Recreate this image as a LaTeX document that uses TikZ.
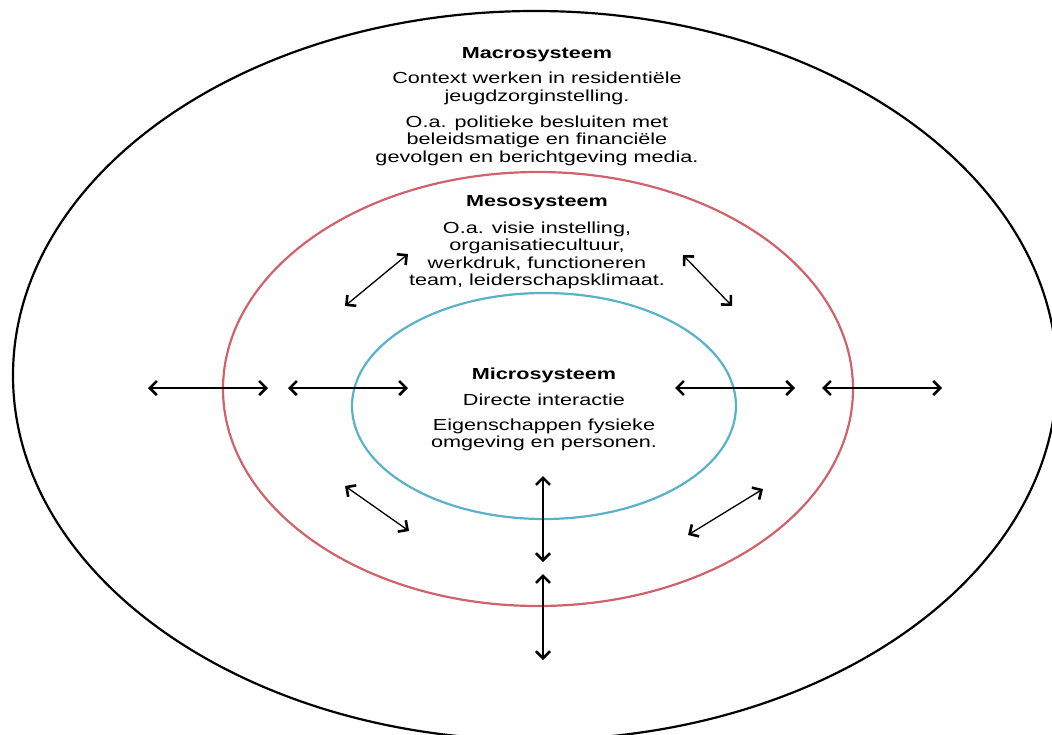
\documentclass[tikz,border=0pt]{standalone}
\usepackage{fontspec}
\setmainfont{Liberation Sans}[FakeStretch=1.35]
\usetikzlibrary{arrows.meta}
\definecolor{mesored}{RGB}{208,98,108}
\definecolor{microblue}{RGB}{88,178,200}
\tikzset{
  ring/.style={line width=2.2pt},
  txt/.style={align=center, inner sep=0pt, font=\fontsize{16}{17.5}\selectfont},
  ttl/.style={align=center, inner sep=0pt, font=\fontsize{16}{17.5}\selectfont\bfseries},
  link/.style={line width=1.3pt, {Straight Barb[length=7pt,width=14pt,line width=2.6pt]}-{Straight Barb[length=7pt,width=14pt,line width=2.6pt]}}
}
\begin{document}
\begin{tikzpicture}[x=1pt,y=-1pt]
\useasboundingbox (0,0) rectangle (1052,734);
\fill[white] (0,0) rectangle (1052,734);
% rings
\draw[ring,black] (535,375.5) ellipse [x radius=522pt, y radius=364.5pt];
\draw[ring,mesored] (538,389) ellipse [x radius=315pt, y radius=217pt];
\draw[ring,microblue] (544,406) ellipse [x radius=192pt, y radius=113pt];
% texts
\node[ttl] (macro) at (537,54.5) {Macrosysteem};
\node[txt] (macro1) at (537,88.5) {Context werken in residenti\"ele\\jeugdzorginstelling.};
\node[txt] (macro2) at (537,140.5) {O.a. politieke besluiten met\\beleidsmatige en financi\"ele\\gevolgen en berichtgeving media.};
\node[ttl] (meso) at (537,203) {Mesosysteem};
\node[txt] (meso1) at (537,255.5) {O.a. visie instelling,\\organisatiecultuur,\\werkdruk, functioneren\\team, leiderschapsklimaat.};
\node[ttl] (micro) at (544,375) {Microsysteem};
\node[txt] (micro1) at (544,400) {Directe interactie};
\node[txt] (micro2) at (544,435) {Eigenschappen fysieke\\omgeving en personen.};
% arrow end points
\coordinate (a1l) at (148,388); \coordinate (a1r) at (268,388);
\coordinate (a2l) at (288,388); \coordinate (a2r) at (408,388);
\coordinate (a3l) at (675,388); \coordinate (a3r) at (795,388);
\coordinate (a4l) at (822,388); \coordinate (a4r) at (942,388);
\coordinate (ula) at (345,306); \coordinate (ulb) at (408,254);
\coordinate (ura) at (683,255); \coordinate (urb) at (732,306);
\coordinate (lla) at (345,486); \coordinate (llb) at (409,531);
\coordinate (lra) at (688,535); \coordinate (lrb) at (763,489);
\coordinate (v1a) at (543,476); \coordinate (v1b) at (543,562);
\coordinate (v2a) at (543,574); \coordinate (v2b) at (543,660);
% arrows
\draw[link] (a1l) -- (a1r);
\draw[link] (a2l) -- (a2r);
\draw[link] (a3l) -- (a3r);
\draw[link] (a4l) -- (a4r);
\draw[link] (ula) -- (ulb);
\draw[link] (ura) -- (urb);
\draw[link] (lla) -- (llb);
\draw[link] (lra) -- (lrb);
\draw[link] (v1a) -- (v1b);
\draw[link] (v2a) -- (v2b);
\end{tikzpicture}
\end{document}
